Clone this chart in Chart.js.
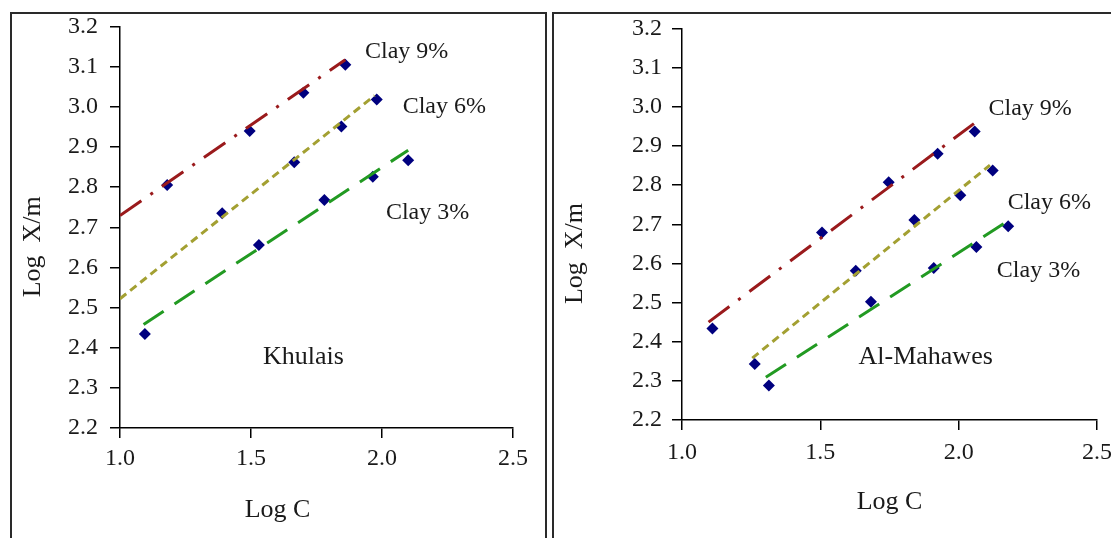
<!DOCTYPE html>
<html lang="en">
<head>
    <meta charset="UTF-8">
    <title>Log X/m vs Log C - Khulais and Al-Mahawes</title>
    <script src="https://cdn.jsdelivr.net/npm/chart.js@4.4.1/dist/chart.umd.min.js"></script>
    <style>
        body {
            margin: 0;
            background: #fff;
            width: 1111px;
            height: 538px;
            overflow: hidden;
            position: relative;
        }
        .panel {
            position: absolute;
            top: 12px;
            height: 560px;
            border: 2px solid #2a2a2a;
            box-sizing: border-box;
        }
        #box-left { left: 10px; width: 537px; }
        #box-right { left: 552px; width: 600px; border-right: none; }
        canvas { position: absolute; top: 0; }
    </style>
</head>
<body>
    <div class="panel" id="box-left"></div>
    <div class="panel" id="box-right"></div>
    <canvas id="khulais" width="531" height="538" style="left:12px;"></canvas>
    <canvas id="mahawes" width="563" height="538" style="left:554px;"></canvas>

    <script>
        // Khulais - measured points (Log C, Log X/m)
        const kC9 = [1.18, 1.495, 1.70, 1.86];
        const kX9 = [2.805, 2.94, 3.035, 3.105];
        const kC6 = [1.39, 1.665, 1.845, 1.98];
        const kX6 = [2.735, 2.862, 2.951, 3.018];
        const kC3 = [1.095, 1.53, 1.78, 1.965, 2.10];
        const kX3 = [2.434, 2.656, 2.768, 2.826, 2.867];
        // Khulais - fitted lines (end points)
        const kFitC9 = [1.0, 1.86];
        const kFitX9 = [2.729, 3.117];
        const kFitC6 = [1.0, 1.972];
        const kFitX6 = [2.522, 3.028];
        const kFitC3 = [1.09, 2.10];
        const kFitX3 = [2.458, 2.892];

        // Al-Mahawes - measured points
        const mC9 = [1.11, 1.506, 1.747, 1.924, 2.058];
        const mX9 = [2.434, 2.679, 2.807, 2.880, 2.937];
        const mC6 = [1.263, 1.628, 1.840, 2.006, 2.123];
        const mX6 = [2.343, 2.581, 2.711, 2.774, 2.837];
        const mC3 = [1.314, 1.683, 1.910, 2.064, 2.179];
        const mX3 = [2.288, 2.502, 2.588, 2.642, 2.695];
        // Al-Mahawes - fitted lines
        const mFitC9 = [1.096, 2.055];
        const mFitX9 = [2.450, 2.957];
        const mFitC6 = [1.254, 2.113];
        const mFitX6 = [2.358, 2.851];
        const mFitC3 = [1.303, 2.177];
        const mFitX3 = [2.309, 2.708];

        const xTicks = [1.0, 1.5, 2.0, 2.5];
        const yTicks = [2.2, 2.3, 2.4, 2.5, 2.6, 2.7, 2.8, 2.9, 3.0, 3.1, 3.2];

        const serif = '"Liberation Serif", "Times New Roman", serif';
        const ink = '#1a1a1a';
        const red = '#9a1a1c';
        const olive = '#a3a032';
        const green = '#229a22';
        const navy = '#00007f';

        const zip = (xs, ys) => xs.map((x, i) => ({ x: x, y: ys[i] }));

        function fitLine(xs, ys, color, dash) {
            return {
                type: 'line',
                data: zip(xs, ys),
                borderColor: color,
                borderWidth: 3,
                borderDash: dash,
                pointRadius: 0,
                fill: false,
                order: 0
            };
        }

        function points(xs, ys) {
            return {
                type: 'scatter',
                data: zip(xs, ys),
                pointStyle: 'rectRot',
                pointRadius: 6,
                backgroundColor: navy,
                borderColor: navy,
                borderWidth: 0,
                order: 1
            };
        }

        // text labels inside the plot, positioned in data units
        const noteLabels = {
            id: 'noteLabels',
            afterDatasetsDraw(chart, args, opts) {
                const ctx = chart.ctx;
                const sx = chart.scales.x, sy = chart.scales.y;
                ctx.save();
                ctx.fillStyle = ink;
                ctx.textBaseline = 'middle';
                ctx.textAlign = 'left';
                opts.items.forEach(it => {
                    ctx.font = it.size + 'px ' + serif;
                    ctx.fillText(it.text, sx.getPixelForValue(it.x), sy.getPixelForValue(it.y));
                });
                ctx.restore();
            }
        };

        function makeChart(id, datasets, notes, geo) {
            return new Chart(document.getElementById(id), {
                data: { datasets: datasets },
                plugins: [noteLabels],
                options: {
                    responsive: false,
                    animation: false,
                    layout: { padding: geo.padding },
                    plugins: {
                        legend: { display: false },
                        tooltip: { enabled: false },
                        noteLabels: { items: notes }
                    },
                    scales: {
                        x: {
                            type: 'linear',
                            min: xTicks[0],
                            max: xTicks[xTicks.length - 1],
                            afterBuildTicks: s => { s.ticks = xTicks.map(v => ({ value: v })); },
                            afterFit: s => { s.height = 102; s.paddingLeft = 0; s.paddingRight = 0; },
                            border: { display: true, color: '#000', width: 1.5 },
                            grid: { drawOnChartArea: false, drawTicks: true, tickLength: 10, color: '#000', lineWidth: 1.5 },
                            ticks: {
                                padding: geo.xPad,
                                color: ink,
                                font: { family: serif, size: 24 },
                                callback: v => Number(v).toFixed(1)
                            },
                            title: {
                                display: true,
                                text: geo.xTitle,
                                color: ink,
                                font: { family: serif, size: 26 },
                                padding: { top: 0, bottom: 4 }
                            }
                        },
                        y: {
                            type: 'linear',
                            min: yTicks[0],
                            max: yTicks[yTicks.length - 1],
                            afterBuildTicks: s => { s.ticks = yTicks.map(v => ({ value: v })); },
                            afterFit: s => { s.width = geo.yWidth; s.paddingTop = 0; s.paddingBottom = 0; },
                            border: { display: true, color: '#000', width: 1.5 },
                            grid: { drawOnChartArea: false, drawTicks: true, tickLength: 10, color: '#000', lineWidth: 1.5 },
                            ticks: {
                                padding: geo.yPad,
                                color: ink,
                                font: { family: serif, size: 24 },
                                callback: v => Number(v).toFixed(1)
                            },
                            title: {
                                display: true,
                                text: geo.yTitle,
                                color: ink,
                                font: { family: serif, size: 26 },
                                padding: { top: 6, bottom: 0 }
                            }
                        }
                    }
                }
            });
        }

        // trailing spaces nudge the titles off-centre, as in the original
        makeChart('khulais', [
            fitLine(kFitC9, kFitX9, red, [26, 11, 3, 11]),
            fitLine(kFitC6, kFitX6, olive, [8, 5]),
            fitLine(kFitC3, kFitX3, green, [24, 13]),
            points(kC9, kX9),
            points(kC6, kX6),
            points(kC3, kX3)
        ], [
            { text: 'Clay 9%', x: 1.935, y: 3.138, size: 24 },
            { text: 'Clay 6%', x: 2.079, y: 3.0, size: 24 },
            { text: 'Clay 3%', x: 2.015, y: 2.736, size: 24 },
            { text: 'Khulais', x: 1.546, y: 2.377, size: 26 }
        ], {
            padding: { top: 26.5, right: 30, bottom: 8, left: 0 },
            yWidth: 108, yPad: 12, xPad: 6,
            xTitle: 'Log C            ',
            yTitle: 'Log  X/m      '
        });

        makeChart('mahawes', [
            fitLine(mFitC9, mFitX9, red, [26, 11, 3, 11]),
            fitLine(mFitC6, mFitX6, olive, [8, 5]),
            fitLine(mFitC3, mFitX3, green, [24, 13]),
            points(mC9, mX9),
            points(mC6, mX6),
            points(mC3, mX3)
        ], [
            { text: 'Clay 9%', x: 2.108, y: 2.995, size: 24 },
            { text: 'Clay 6%', x: 2.177, y: 2.755, size: 24 },
            { text: 'Clay 3%', x: 2.138, y: 2.582, size: 24 },
            { text: 'Al-Mahawes', x: 1.638, y: 2.361, size: 26 }
        ], {
            padding: { top: 28.5, right: 20, bottom: 16, left: 0 },
            yWidth: 128, yPad: 10, xPad: 8,
            xTitle: 'Log C',
            yTitle: 'Log  X/m         '
        });
    </script>
</body>
</html>
